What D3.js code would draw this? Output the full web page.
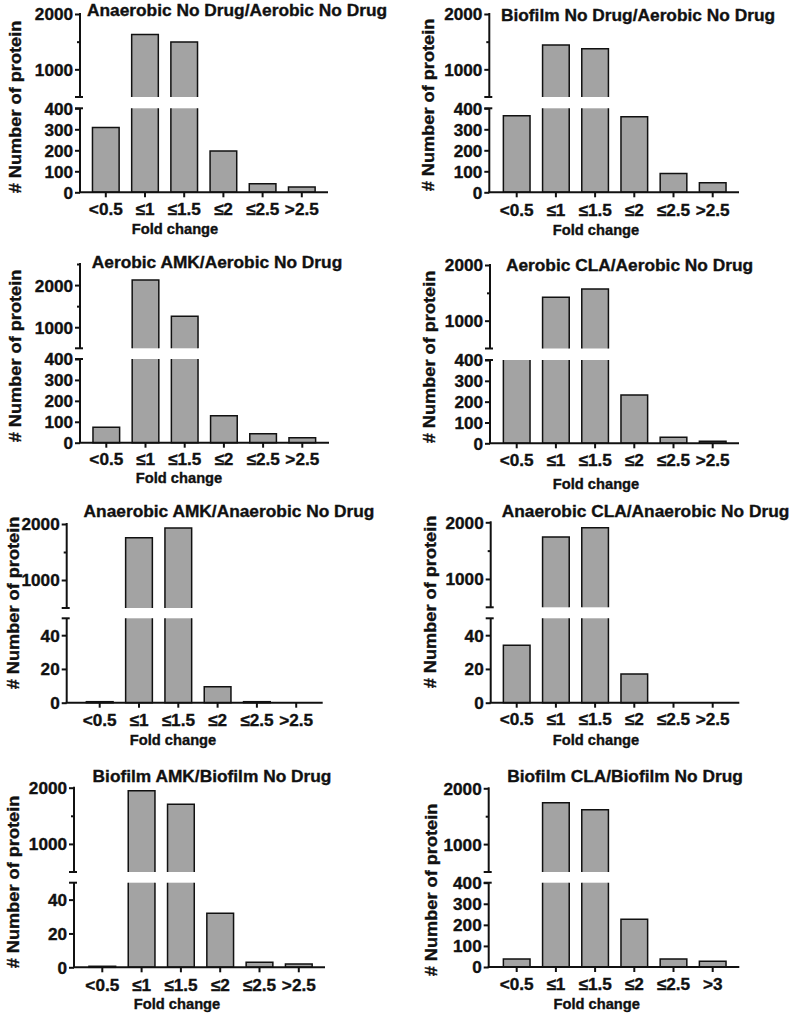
<!DOCTYPE html>
<html><head><meta charset="utf-8">
<script src="https://cdn.jsdelivr.net/npm/d3@7"></script>
<style>
body{margin:0;background:#fff}
text{font-family:"Liberation Sans",Arial,Helvetica,sans-serif;font-weight:bold;fill:#111;stroke:#111;stroke-width:0.35px}
</style>
</head><body>
<svg id="c" width="797" height="1017"></svg>
<script>
// ---------- data ----------
const categories = ["<0.5","≤1","≤1.5","≤2","≤2.5",">2.5"];
const categoriesBiofilmCLA = ["<0.5","≤1","≤1.5","≤2","≤2.5",">3"];
const titles = [
  "Anaerobic No Drug/Aerobic No Drug",
  "Biofilm No Drug/Aerobic No Drug",
  "Aerobic AMK/Aerobic No Drug",
  "Aerobic CLA/Aerobic No Drug",
  "Anaerobic AMK/Anaerobic No Drug",
  "Anaerobic CLA/Anaerobic No Drug",
  "Biofilm AMK/Biofilm No Drug",
  "Biofilm CLA/Biofilm No Drug"
];
const anaerobicNoDrug = [308, 1631, 1496, 197, 41, 25];
const biofilmNoDrug   = [365, 1439, 1373, 360, 89, 46];
const aerobicAMK      = [74, 2118, 1260, 129, 43, 24];
const aerobicCLA      = [470, 1420, 1569, 232, 29, 10];
const anaerobicAMK    = [0.6, 1755, 1929, 9.5, 0.6, 0];
const anaerobicCLA    = [34, 1741, 1905, 17, 0, 0];
const biofilmAMK      = [0.6, 1947, 1705, 32, 3, 2];
const biofilmCLA      = [38, 1741, 1616, 226, 38, 27];
const seriesList = [anaerobicNoDrug, biofilmNoDrug, aerobicAMK, aerobicCLA, anaerobicAMK, anaerobicCLA, biofilmAMK, biofilmCLA];
const categoryList = [categories, categories, categories, categories, categories, categories, categories, categoriesBiofilmCLA];
const upperMin = 500;
const upperMax = [2000, 2000, 2500, 2000, 2000, 2000, 2000, 2000];
const upperTickLabels = [1000, 2000];
const upperMinorTicks = [[1500],[1500],[1500,2500],[1500],[1500],[1500],[1500],[1500]];
const lowerMax = [400, 400, 400, 400, 50, 50, 50, 400];
const lowerTicks400 = [0, 100, 200, 300, 400];
const lowerTicks50 = [0, 20, 40];
const yLabel = "# Number of protein";
const xLabel = "Fold change";

// ---------- layout (pixel positions) ----------
const layouts = [
 {ax:80,   uTop:14,    uBot:97,    lTop:108.3, base:192.3, xEnd:328,   c0:105.8, step:39.2, tX:237,   tY:16,    kY:215, fX:175,   fY:234,  yX:15,   yY:107},
 {ax:489.3,uTop:14,    uBot:97,    lTop:108.3, base:192.3, xEnd:739,   c0:516.7, step:39.2, tX:638,   tY:20.7,  kY:216, fX:596,   fY:235,  yX:428,  yY:105},
 {ax:80,   uTop:264,   uBot:348.3, lTop:359,   base:442.7, xEnd:329,   c0:106.3, step:39.2, tX:217,   tY:268,   kY:465, fX:179,   fY:483,  yX:15,   yY:356},
 {ax:490,  uTop:265,   uBot:348.5, lTop:360,   base:443.3, xEnd:739,   c0:516.7, step:39.2, tX:629.5, tY:271,   kY:466, fX:596,   fY:489,  yX:429.5,yY:357},
 {ax:66.7, uTop:524,   uBot:608,   lTop:618.3, base:702.7, xEnd:322.7, c0:99.7,  step:39.3, tX:229,   tY:517,   kY:726, fX:173,   fY:745,  yX:13,   yY:603},
 {ax:490.7,uTop:522.3, uBot:607.3, lTop:618.3, base:702.7, xEnd:739.3, c0:516.7, step:39.2, tX:645.5, tY:517,   kY:725, fX:596,   fY:745,  yX:430,  yY:602},
 {ax:74,   uTop:787.7, uBot:872,   lTop:882.7, base:967.3, xEnd:325,   c0:102.3, step:39.3, tX:212,   tY:782,   kY:991, fX:177,   fY:1009, yX:13,   yY:882},
 {ax:488.7,uTop:788.3, uBot:872,   lTop:882.7, base:967,   xEnd:739.3, c0:516.7, step:39.2, tX:625,   tY:782,   kY:990, fX:596.7, fY:1009, yX:431.7,yY:890}
];

const BAR_FILL = "#a3a3a3", INK = "#111";
const TICK_FS = 16.5, TICK_SX = 1.04;
const svg = d3.select("#c");

function scaledText(g, x, y, str, fs, sx, anchor, rot) {
  return g.append("text")
    .attr("transform", `translate(${x},${y})` + (rot ? ` rotate(${rot})` : "") + ` scale(${sx},1)`)
    .attr("text-anchor", anchor).attr("font-size", fs).text(str);
}

seriesList.forEach((vals, i) => {
  const L = layouts[i];
  const cats = categoryList[i];
  const g = svg.append("g");
  const x = d3.scaleBand().domain(cats)
    .range([L.c0 - L.step / 2, L.c0 + 5.5 * L.step])
    .paddingInner(0.32).paddingOuter(0.16);
  const yU = d3.scaleLinear().domain([upperMin, upperMax[i]]).range([L.uBot, L.uTop]);
  const yL = d3.scaleLinear().domain([0, lowerMax[i]]).range([L.base, L.lTop]);

  // bars
  cats.forEach((c, j) => {
    const v = vals[j];
    const x0 = x(c), x1 = x(c) + x.bandwidth();
    if (v <= 0) return;
    const lv = Math.min(v, lowerMax[i]);
    const yt = yL(lv);
    g.append("rect").attr("x", x0).attr("y", yt).attr("width", x1 - x0).attr("height", L.base - yt)
      .attr("fill", BAR_FILL);
    const p = d3.path();
    if (v > lowerMax[i]) {
      p.moveTo(x0, yt); p.lineTo(x0, L.base); p.lineTo(x1, L.base); p.lineTo(x1, yt);
    } else {
      p.rect(x0, yt, x1 - x0, L.base - yt);
    }
    g.append("path").attr("d", p.toString()).attr("fill", "none").attr("stroke", INK).attr("stroke-width", 1.5);
    if (v > upperMin) {
      const yu = yU(v);
      g.append("rect").attr("x", x0).attr("y", yu).attr("width", x1 - x0).attr("height", L.uBot - yu)
        .attr("fill", BAR_FILL);
      const q = d3.path();
      q.moveTo(x0, L.uBot); q.lineTo(x0, yu); q.lineTo(x1, yu); q.lineTo(x1, L.uBot);
      g.append("path").attr("d", q.toString()).attr("fill", "none").attr("stroke", INK).attr("stroke-width", 1.5);
    }
  });

  // x axis
  g.append("line").attr("x1", L.ax - 1).attr("x2", L.xEnd).attr("y1", L.base).attr("y2", L.base)
    .attr("stroke", INK).attr("stroke-width", 2);
  const xa = g.append("g").attr("transform", `translate(0,${L.base})`)
    .call(d3.axisBottom(x).tickSize(5).tickSizeOuter(0));
  xa.select(".domain").remove();
  xa.selectAll(".tick line").attr("stroke", INK).attr("stroke-width", 2);
  xa.selectAll(".tick text").attr("x", 0).attr("y", 0).attr("dy", 0)
    .attr("transform", `translate(0,${L.kY - L.base}) scale(${TICK_SX},1)`)
    .attr("font-size", TICK_FS).attr("font-family", null).attr("fill", INK);

  // y axis: upper segment
  g.append("line").attr("x1", L.ax).attr("x2", L.ax).attr("y1", L.uTop - 1).attr("y2", L.uBot)
    .attr("stroke", INK).attr("stroke-width", 2);
  const ua = g.append("g").attr("transform", `translate(${L.ax},0)`)
    .call(d3.axisLeft(yU).tickValues(upperTickLabels).tickSize(5).tickFormat(d3.format("d")));
  ua.select(".domain").remove();
  ua.selectAll(".tick line").attr("stroke", INK).attr("stroke-width", 2);
  ua.selectAll(".tick text").attr("x", 0).attr("dy", "0.36em")
    .attr("transform", `translate(-7,0) scale(${TICK_SX},1)`)
    .attr("font-size", TICK_FS).attr("font-family", null).attr("fill", INK);
  const um = g.append("g").attr("transform", `translate(${L.ax},0)`)
    .call(d3.axisLeft(yU).tickValues(upperMinorTicks[i]).tickSize(3).tickFormat(""));
  um.select(".domain").remove();
  um.selectAll(".tick line").attr("stroke", INK).attr("stroke-width", 2);

  // y axis: lower segment
  g.append("line").attr("x1", L.ax).attr("x2", L.ax).attr("y1", L.lTop).attr("y2", L.base)
    .attr("stroke", INK).attr("stroke-width", 2);
  const la = g.append("g").attr("transform", `translate(${L.ax},0)`)
    .call(d3.axisLeft(yL).tickValues(lowerMax[i] === 400 ? lowerTicks400 : lowerTicks50).tickSize(5).tickFormat(d3.format("d")));
  la.select(".domain").remove();
  la.selectAll(".tick line").attr("stroke", INK).attr("stroke-width", 2);
  la.selectAll(".tick text").attr("x", 0).attr("dy", "0.36em")
    .attr("transform", `translate(-7,0) scale(${TICK_SX},1)`)
    .attr("font-size", TICK_FS).attr("font-family", null).attr("fill", INK);

  // break caps
  [L.uBot, L.lTop].forEach(yy => {
    g.append("line").attr("x1", L.ax - 5).attr("x2", L.ax + 3).attr("y1", yy).attr("y2", yy)
      .attr("stroke", INK).attr("stroke-width", 2);
  });

  // texts
  scaledText(g, L.tX, L.tY, titles[i], 16.5, 1.05, "middle");
  scaledText(g, L.fX, L.fY, xLabel, 14, 1.05, "middle");
  scaledText(g, L.yX, L.yY, yLabel, 17, 1.07, "middle", -90).attr("dy", "0.33em");
});
</script>
</body></html>
